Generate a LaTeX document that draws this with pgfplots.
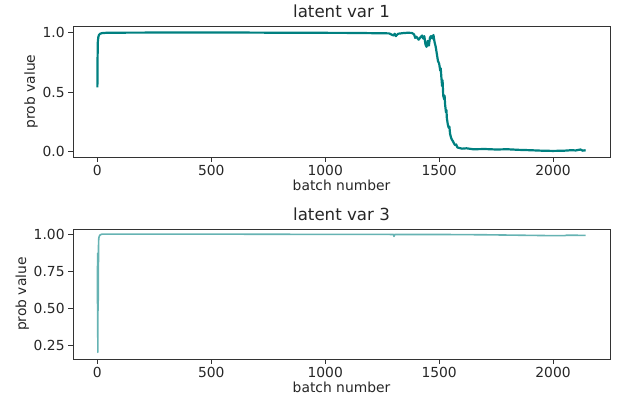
\documentclass[border=0pt]{standalone}
\usepackage{pgfplots}
\pgfplotsset{compat=1.18}
\usepackage{fontspec}
\setmainfont{DejaVu Sans}
\definecolor{mplteal}{HTML}{008080}
\pgfplotsset{
  myaxis/.style={
    scale only axis, width=537bp,
    xmin=-107, xmax=2250,
    axis line style={line width=0.85bp, black!80},
    tick align=outside, tick pos=left,
    major tick length=4.9bp,
    every tick/.style={line width=0.85bp, black!80},
    xtick={0,500,1000,1500,2000},
    /pgf/number format/assume math mode=true,
    /pgf/number format/1000 sep={},
    tick label style={font=\fontsize{13.9}{16}\selectfont, color=black!85},
    label style={font=\fontsize{13.9}{16}\selectfont, color=black!85},
    title style={font=\fontsize{16.7}{19}\selectfont, color=black!85, yshift=-1bp},
    xlabel={batch number}, ylabel={prob value},
    xlabel style={yshift=3bp},
    ylabel style={yshift=-2bp},
    clip=true,
  }
}
\begin{document}
\begin{tikzpicture}
\useasboundingbox (0,0) rectangle (620bp,405bp);
\begin{axis}[myaxis, at={(73bp,248bp)}, anchor=south west, height=131bp,
  ymin=-0.045, ymax=1.055, ytick={0,0.5,1},
  yticklabel style={/pgf/number format/fixed, /pgf/number format/fixed zerofill, /pgf/number format/precision=1},
  title={latent var 1}]
\addplot[mplteal, line width=2.2bp, line join=round] coordinates {
(0,0.54) (1,0.80) (2,0.92) (4,0.96) (7,0.98) (12,0.99) (20,0.995) (40,0.998)
(100,0.999) (300,1.0) (600,1.0) (900,0.998) (1100,0.997) (1200,0.995) (1280,0.993)
(1300,0.975) (1305,0.990) (1310,0.97) (1320,0.99) (1340,0.995) (1360,0.998) (1380,0.997)
(1390,0.985) (1395,0.955) (1400,0.965) (1410,0.94) (1420,0.965) (1425,0.975) (1430,0.95)
(1435,0.97) (1440,0.90) (1445,0.88) (1450,0.93) (1455,0.89) (1460,0.96) (1465,0.97)
(1470,0.95) (1475,0.98) (1480,0.92) (1485,0.88) (1490,0.82) (1495,0.76) (1500,0.74)
(1505,0.68) (1507,0.70) (1510,0.62) (1513,0.55) (1515,0.60) (1518,0.47) (1522,0.44) (1524,0.47) (1526,0.40)
(1530,0.33) (1532,0.35) (1534,0.28) (1538,0.23) (1542,0.20) (1545,0.21) (1548,0.15) (1552,0.12) (1556,0.10)
(1560,0.09) (1565,0.07) (1570,0.055) (1575,0.06) (1580,0.035) (1590,0.03) (1600,0.025)
(1620,0.028) (1650,0.02) (1700,0.022) (1750,0.018) (1800,0.02) (1850,0.015) (1900,0.012)
(1950,0.008) (2000,0.006) (2050,0.008) (2080,0.012) (2100,0.010) (2120,0.018) (2130,0.008)
(2143,0.012)
};
\end{axis}
\begin{axis}[myaxis, at={(73bp,46bp)}, anchor=south west, height=130bp,
  ymin=0.155, ymax=1.035, ytick={0.25,0.5,0.75,1},
  yticklabel style={/pgf/number format/fixed, /pgf/number format/fixed zerofill, /pgf/number format/precision=2},
  title={latent var 3}]
\addplot[mplteal!60, line width=1.6bp, line join=round] coordinates {
(0,0.53) (1,0.87) (2,0.20) (3,0.75) (4,0.55) (5,0.92) (6,0.97) (8,0.985) (12,0.995)
(20,1.0) (300,1.0) (600,1.0) (900,0.999) (1200,0.999) (1300,0.998) (1302,0.985)
(1305,0.998) (1500,0.998) (1700,0.996) (1800,0.994) (1900,0.992) (2000,0.99)
(2050,0.99) (2060,0.993) (2143,0.992)
};
\end{axis}
\end{tikzpicture}
\end{document}
